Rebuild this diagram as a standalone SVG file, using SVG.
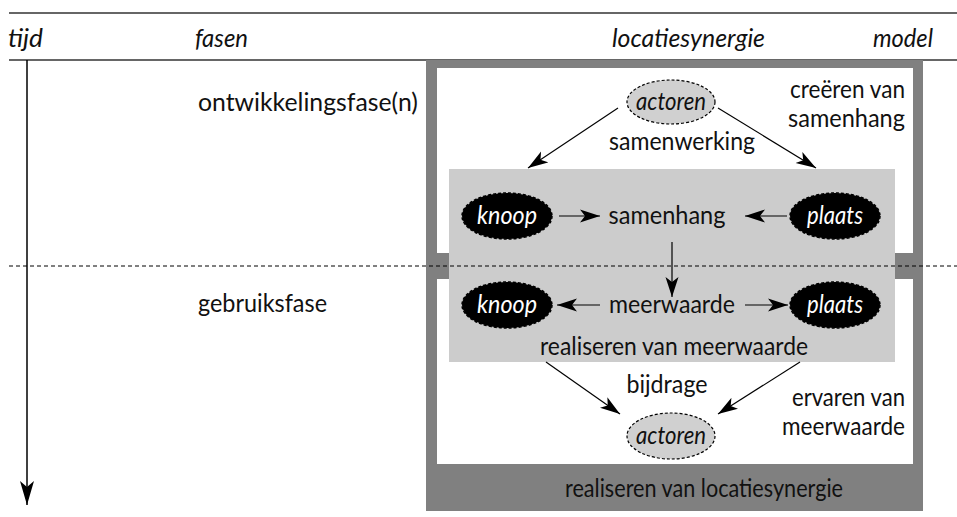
<svg xmlns="http://www.w3.org/2000/svg" width="957" height="517" viewBox="0 0 957 517">
  <style>
    text { font-family: Lato, "Open Sans", "Liberation Sans", sans-serif; font-size: 25px; fill: #111; }
    .it { font-style: italic; }
    .inv { fill: #fff; }
    .rule { stroke: #333; stroke-width: 1.5; fill: none; }
    .edge { stroke: #000; stroke-width: 1.2; fill: none; }
    .gnode { fill: #d0d0d0; stroke: #000; stroke-width: 1.2; stroke-dasharray: 3 2; }
    .bnode { fill: #000; stroke: #000; stroke-width: 1.5; stroke-dasharray: 3 2; }
  </style>
  <defs>
    <marker id="arrow" markerUnits="userSpaceOnUse" markerWidth="22" markerHeight="14" refX="20" refY="7" orient="auto">
      <path d="M0,0.5 L20,7 L0,13.5 L5,7 Z" fill="#000"/>
    </marker>
    <marker id="arrow-axis" markerUnits="userSpaceOnUse" markerWidth="26" markerHeight="16" refX="24" refY="8" orient="auto">
      <path d="M0,1 L24,8 L0,15 L6,8 Z" fill="#000"/>
    </marker>
  </defs>

  <rect width="957" height="517" fill="#fff"/>

  <!-- header rules and column titles -->
  <g id="header">
    <line class="rule" x1="9" y1="13" x2="957" y2="13"/>
    <line class="rule" x1="9" y1="60" x2="957" y2="60"/>
    <text class="it" x="8" y="47" textLength="35" lengthAdjust="spacingAndGlyphs">tijd</text>
    <text class="it" x="195" y="47" textLength="53" lengthAdjust="spacingAndGlyphs">fasen</text>
    <text class="it" x="612" y="47" textLength="153" lengthAdjust="spacingAndGlyphs">locatiesynergie</text>
    <text class="it" x="873" y="47" textLength="60" lengthAdjust="spacingAndGlyphs">model</text>
  </g>

  <!-- time axis -->
  <g id="time-axis">
    <line x1="27" y1="60" x2="27" y2="505" stroke="#000" stroke-width="1.5" marker-end="url(#arrow-axis)"/>
  </g>

  <!-- phase labels -->
  <g id="phases">
    <text x="198" y="111" textLength="220" lengthAdjust="spacingAndGlyphs">ontwikkelingsfase(n)</text>
    <text x="198" y="312" textLength="129" lengthAdjust="spacingAndGlyphs">gebruiksfase</text>
  </g>

  <!-- model frame -->
  <g id="frame">
    <rect x="426" y="60" width="497" height="451" fill="#808080"/>
    <rect x="437" y="68" width="476" height="185" fill="#fff"/>
    <rect x="437" y="279" width="476" height="185" fill="#fff"/>
    <rect x="449" y="169" width="446" height="193" fill="#cccccc"/>
    <text x="565" y="497" textLength="278" lengthAdjust="spacingAndGlyphs">realiseren van locatiesynergie</text>
  </g>

  <!-- phase boundary -->
  <line x1="9" y1="266" x2="957" y2="266" stroke="#000" stroke-width="1" stroke-dasharray="4 3"/>

  <!-- connectors -->
  <g id="connectors">
    <line class="edge" x1="618" y1="108" x2="528" y2="168" marker-end="url(#arrow)"/>
    <line class="edge" x1="718" y1="108" x2="816" y2="168" marker-end="url(#arrow)"/>
    <line class="edge" x1="559" y1="216" x2="600" y2="216" marker-end="url(#arrow)"/>
    <line class="edge" x1="787" y1="216" x2="745" y2="216" marker-end="url(#arrow)"/>
    <line class="edge" x1="672" y1="242" x2="672" y2="297" marker-end="url(#arrow)"/>
    <line class="edge" x1="600" y1="305" x2="557" y2="305" marker-end="url(#arrow)"/>
    <line class="edge" x1="745" y1="305" x2="788" y2="305" marker-end="url(#arrow)"/>
    <line class="edge" x1="546" y1="362" x2="620" y2="414" marker-end="url(#arrow)"/>
    <line class="edge" x1="800" y1="362" x2="718" y2="414" marker-end="url(#arrow)"/>
  </g>

  <!-- nodes -->
  <g id="actoren-top">
    <ellipse class="gnode" cx="671" cy="102" rx="44" ry="22"/>
    <text class="it" x="671" y="110" text-anchor="middle" textLength="70" lengthAdjust="spacingAndGlyphs">actoren</text>
  </g>
  <g id="knoop-top">
    <ellipse class="bnode" cx="507" cy="216" rx="45" ry="23"/>
    <text class="it inv" x="507" y="224" text-anchor="middle" textLength="60" lengthAdjust="spacingAndGlyphs">knoop</text>
  </g>
  <g id="plaats-top">
    <ellipse class="bnode" cx="835" cy="216" rx="45" ry="23"/>
    <text class="it inv" x="835" y="224" text-anchor="middle" textLength="56" lengthAdjust="spacingAndGlyphs">plaats</text>
  </g>
  <g id="samenhang">
    <text x="667" y="224" text-anchor="middle" textLength="117" lengthAdjust="spacingAndGlyphs">samenhang</text>
  </g>
  <g id="knoop-bottom">
    <ellipse class="bnode" cx="507" cy="305" rx="45" ry="23"/>
    <text class="it inv" x="507" y="313" text-anchor="middle" textLength="60" lengthAdjust="spacingAndGlyphs">knoop</text>
  </g>
  <g id="plaats-bottom">
    <ellipse class="bnode" cx="835" cy="305" rx="45" ry="23"/>
    <text class="it inv" x="835" y="313" text-anchor="middle" textLength="56" lengthAdjust="spacingAndGlyphs">plaats</text>
  </g>
  <g id="meerwaarde">
    <text x="672" y="313" text-anchor="middle" textLength="126" lengthAdjust="spacingAndGlyphs">meerwaarde</text>
  </g>
  <g id="actoren-bottom">
    <ellipse class="gnode" cx="671" cy="436" rx="44" ry="23"/>
    <text class="it" x="671" y="444" text-anchor="middle" textLength="70" lengthAdjust="spacingAndGlyphs">actoren</text>
  </g>

  <!-- labels -->
  <g id="labels">
    <text x="682" y="150" text-anchor="middle" textLength="146" lengthAdjust="spacingAndGlyphs">samenwerking</text>
    <text x="905" y="98" text-anchor="end" textLength="115" lengthAdjust="spacingAndGlyphs">creëren van</text>
    <text x="905" y="127" text-anchor="end" textLength="117" lengthAdjust="spacingAndGlyphs">samenhang</text>
    <text x="674" y="355" text-anchor="middle" textLength="268" lengthAdjust="spacingAndGlyphs">realiseren van meerwaarde</text>
    <text x="667" y="393" text-anchor="middle" textLength="81" lengthAdjust="spacingAndGlyphs">bijdrage</text>
    <text x="905" y="406" text-anchor="end" textLength="113" lengthAdjust="spacingAndGlyphs">ervaren van</text>
    <text x="905" y="435" text-anchor="end" textLength="123" lengthAdjust="spacingAndGlyphs">meerwaarde</text>
  </g>
</svg>
